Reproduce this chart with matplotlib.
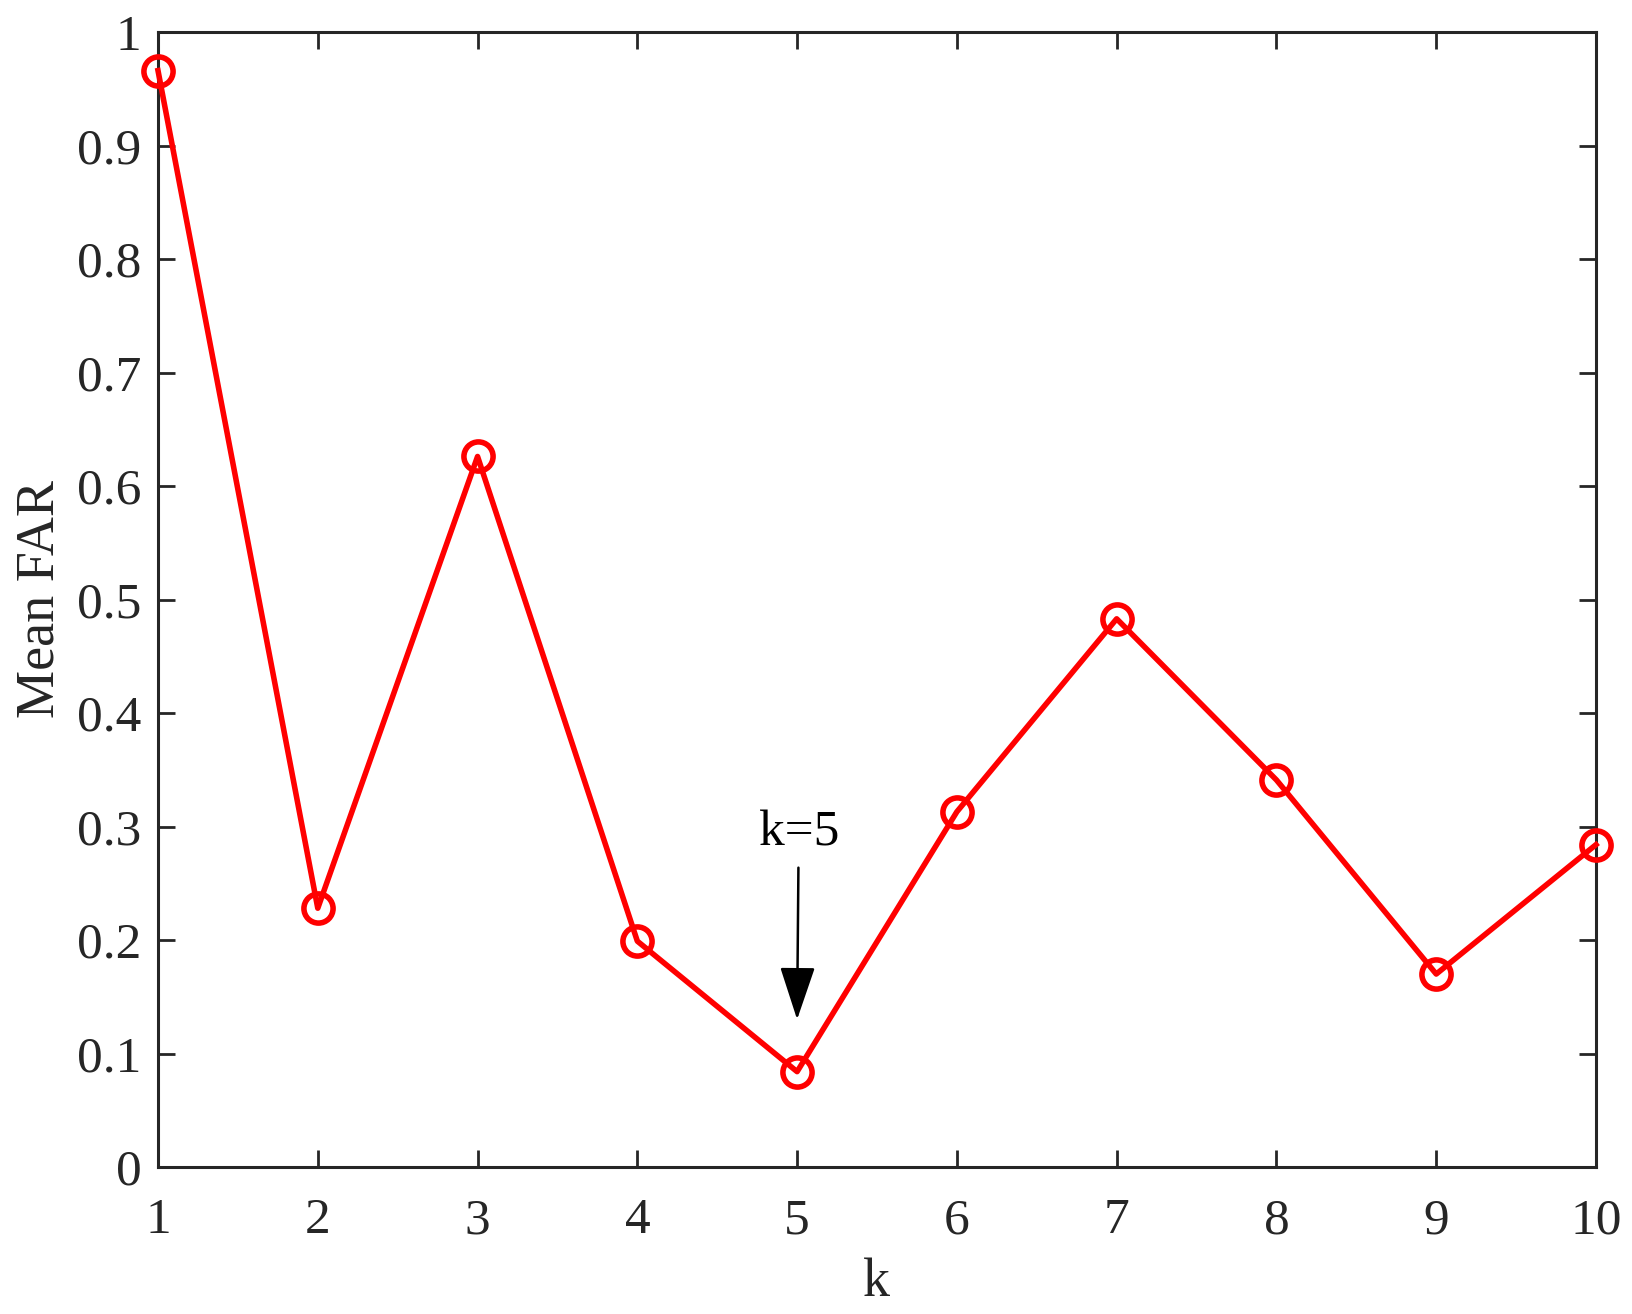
import matplotlib
matplotlib.use("Agg")
import matplotlib.pyplot as plt

k = [1, 2, 3, 4, 5, 6, 7, 8, 9, 10]
mean_far = [0.966, 0.228, 0.626, 0.199, 0.084, 0.313, 0.483, 0.341, 0.170, 0.284]
yticks = [0, 0.1, 0.2, 0.3, 0.4, 0.5, 0.6, 0.7, 0.8, 0.9, 1]
ytick_labels = ["0", "0.1", "0.2", "0.3", "0.4", "0.5", "0.6", "0.7", "0.8", "0.9", "1"]
best_k = 5

plt.rcParams['font.family'] = ['Liberation Serif', 'DejaVu Serif']
dark = '#262626'

fig = plt.figure(figsize=(16.33, 13.14), dpi=100)
ax = fig.add_axes([158 / 1633, 1 - 1167 / 1314, (1596 - 158) / 1633, (1167 - 32) / 1314])

ax.plot(k, mean_far, color='red', linewidth=4, marker='o', markersize=21,
        markerfacecolor='none', markeredgewidth=4, clip_on=False, zorder=3)

ax.set_xlim(1, 10)
ax.set_ylim(0, 1)
ax.set_xticks(k)
ax.set_yticks(yticks)
ax.set_yticklabels(ytick_labels)

ax.tick_params(direction='in', length=12, width=2, top=True, right=True,
               labelsize=37, colors=dark, pad=12)
ax.tick_params(axis='x', pad=22)
for s in ax.spines.values():
    s.set_linewidth(2.2)
    s.set_color(dark)

ax.set_xlabel('k', fontsize=39, color=dark, labelpad=10)
ax.set_ylabel('Mean FAR', fontsize=39, color=dark, labelpad=8)

ax.annotate('k=5', xy=(best_k, 0.13), xytext=(best_k + 0.01, 0.294),
            fontsize=37, ha='center', va='center', color='black',
            arrowprops=dict(arrowstyle='-|>,head_length=0.9,head_width=0.3',
                            color='black', linewidth=1.8, shrinkA=6, shrinkB=0))

fig.savefig('out.png', dpi=100)
plt.close(fig)
